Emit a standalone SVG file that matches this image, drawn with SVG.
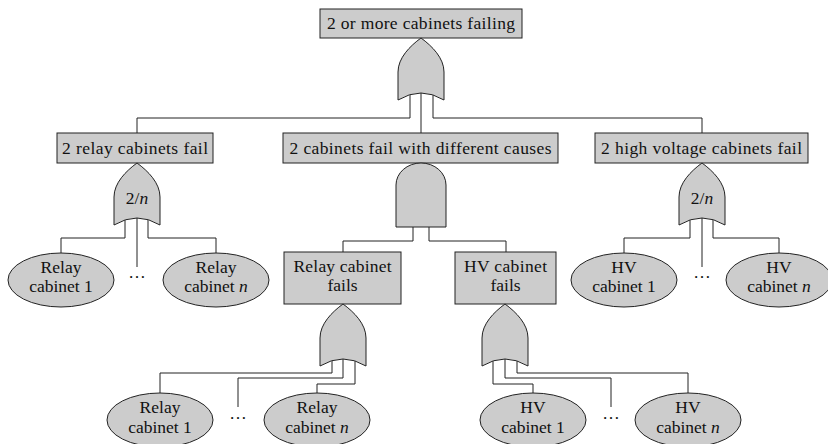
<svg xmlns="http://www.w3.org/2000/svg" width="828" height="444" viewBox="0 0 828 444">
<style>
.b{fill:#cccccc;stroke:#222;stroke-width:1}
.c{fill:none;stroke:#222;stroke-width:1}
.t text{font-size:17.5px;fill:#111;text-anchor:middle}
.i{font-style:italic}
</style>
<defs>
<path id="org" d="M0,0 C-11,8 -23,20 -23,34 L-23,62 Q0,48 23,62 L23,34 C23,20 11,8 0,0 Z"/>
</defs>
<rect width="828" height="444" fill="#fff"/>
<g id="connectors" class="c">
<path d="M410,95 V118 H137 V133"/>
<path d="M421,92 V133"/>
<path d="M433,95 V118 H702 V133"/>
<path d="M125,220 V238 H61 V253"/>
<path d="M137,217 V267"/>
<path d="M148,220 V238 H216 V253"/>
<path d="M690,220 V238 H624 V253"/>
<path d="M702,217 V267"/>
<path d="M713,220 V238 H779 V253"/>
<path d="M413,227 V241 H343 V252"/>
<path d="M429,227 V241 H506 V252"/>
<path d="M332,361 V373 H160 V393"/>
<path d="M343,358 V378 H238 V407"/>
<path d="M355,361 V384 H317 V393"/>
<path d="M493,361 V384 H533 V393"/>
<path d="M505,358 V378 H611 V407"/>
<path d="M517,361 V373 H688 V393"/>
</g>
<g class="t" font-family="'Liberation Serif', 'DejaVu Serif', serif">
<g id="top">
<rect class="b" x="320" y="9" width="202" height="29"/>
<text x="421" y="29" textLength="188" lengthAdjust="spacing">2 or more cabinets failing</text>
</g>
<g id="gate-top"><use href="#org" class="b" transform="translate(421,38)"/></g>
<g id="relay2">
<rect class="b" x="57" y="133" width="156" height="30"/>
<text x="135" y="154" textLength="146" lengthAdjust="spacing">2 relay cabinets fail</text>
</g>
<g id="diff2">
<rect class="b" x="283" y="133" width="275" height="30"/>
<text x="420.5" y="154" textLength="262" lengthAdjust="spacing">2 cabinets fail with different causes</text>
</g>
<g id="hv2">
<rect class="b" x="595" y="133" width="213" height="30"/>
<text x="701.5" y="154" textLength="201" lengthAdjust="spacing">2 high voltage cabinets fail</text>
</g>
<g id="gate-relay2">
<use href="#org" class="b" transform="translate(137,163)"/>
<text x="137" y="204">2/<tspan class="i">n</tspan></text>
</g>
<g id="gate-hv2">
<use href="#org" class="b" transform="translate(702,163)"/>
<text x="702" y="204">2/<tspan class="i">n</tspan></text>
</g>
<g id="gate-and">
<path class="b" d="M396,227 V185 A25,22 0 0 1 446,185 V227 Z"/>
</g>
<g id="relay-fails">
<rect class="b" x="284" y="252" width="117" height="52"/>
<text x="342.5" y="272" textLength="98" lengthAdjust="spacing">Relay cabinet</text>
<text x="342.5" y="291">fails</text>
</g>
<g id="hv-fails">
<rect class="b" x="455" y="252" width="101" height="52"/>
<text x="505.5" y="272" textLength="83" lengthAdjust="spacing">HV cabinet</text>
<text x="505.5" y="291">fails</text>
</g>
<g id="gate-relay"><use href="#org" class="b" transform="translate(343,304)"/></g>
<g id="gate-hv"><use href="#org" class="b" transform="translate(505,304)"/></g>
<g id="relay1-top">
<ellipse class="b" cx="61" cy="280" rx="53" ry="27"/>
<text x="61" y="273">Relay</text><text x="61" y="292">cabinet 1</text>
</g>
<g id="dots-relay-top"><text x="137" y="278">…</text></g>
<g id="relayn-top">
<ellipse class="b" cx="216" cy="280" rx="53" ry="27"/>
<text x="216" y="273">Relay</text><text x="216" y="292">cabinet <tspan class="i">n</tspan></text>
</g>
<g id="hv1-top">
<ellipse class="b" cx="624" cy="280" rx="53" ry="27"/>
<text x="624" y="273">HV</text><text x="624" y="292">cabinet 1</text>
</g>
<g id="dots-hv-top"><text x="702" y="278">…</text></g>
<g id="hvn-top">
<ellipse class="b" cx="779" cy="280" rx="53" ry="27"/>
<text x="779" y="273">HV</text><text x="779" y="292">cabinet <tspan class="i">n</tspan></text>
</g>
<g id="relay1-bot">
<ellipse class="b" cx="160" cy="420" rx="53" ry="27"/>
<text x="160" y="413">Relay</text><text x="160" y="433">cabinet 1</text>
</g>
<g id="dots-relay-bot"><text x="238" y="419">…</text></g>
<g id="relayn-bot">
<ellipse class="b" cx="317" cy="420" rx="53" ry="27"/>
<text x="317" y="413">Relay</text><text x="317" y="433">cabinet <tspan class="i">n</tspan></text>
</g>
<g id="hv1-bot">
<ellipse class="b" cx="533" cy="420" rx="53" ry="27"/>
<text x="533" y="413">HV</text><text x="533" y="433">cabinet 1</text>
</g>
<g id="dots-hv-bot"><text x="611" y="419">…</text></g>
<g id="hvn-bot">
<ellipse class="b" cx="688" cy="420" rx="53" ry="27"/>
<text x="688" y="413">HV</text><text x="688" y="433">cabinet <tspan class="i">n</tspan></text>
</g>
</g>
</svg>
